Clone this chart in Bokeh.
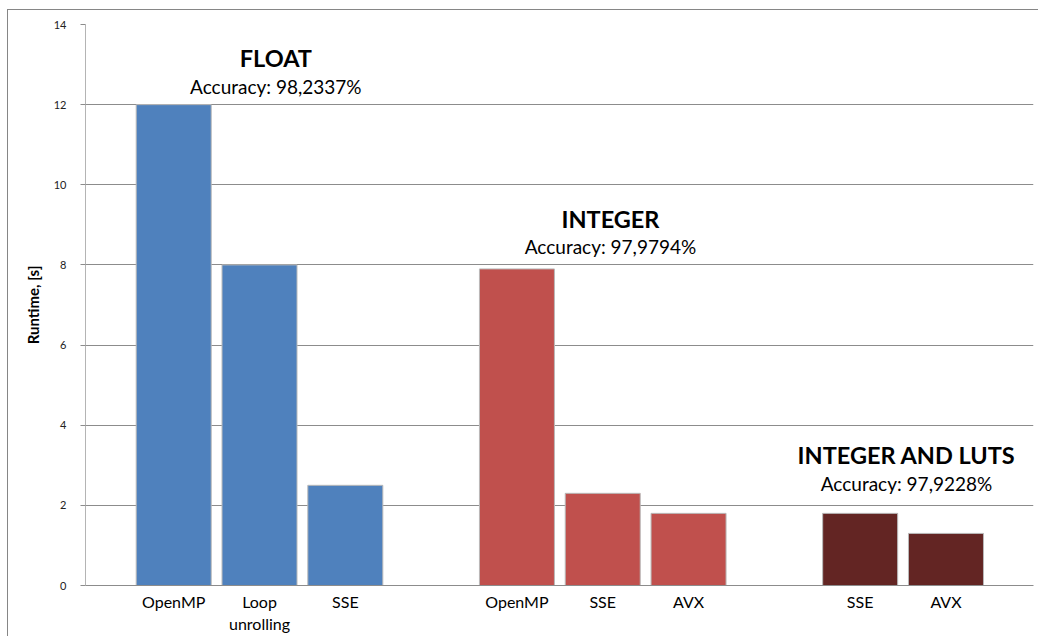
from bokeh.plotting import figure
from bokeh.models import FixedTicker, ColumnDataSource
from bokeh.core.properties import value
from bokeh.embed import file_html
from bokeh.resources import INLINE

# Runtime per optimisation variant, three groups of implementations
categories = ["OpenMP", "Loop\nunrolling", "SSE", "OpenMP", "SSE", "AVX", "SSE", "AVX"]
runtime = [12.0, 8.0, 2.5, 7.9, 2.3, 1.8, 1.8, 1.3]
groups = ["FLOAT", "FLOAT", "FLOAT", "INTEGER", "INTEGER", "INTEGER",
          "INTEGER AND LUTS", "INTEGER AND LUTS"]
group_titles = ["FLOAT", "INTEGER", "INTEGER AND LUTS"]
group_accuracy = ["Accuracy: 98,2337%", "Accuracy: 97,9794%", "Accuracy: 97,9228%"]
y_ticks = [0, 2, 4, 6, 8, 10, 12, 14]

group_colors = {"FLOAT": "#4F81BD", "INTEGER": "#C0504D", "INTEGER AND LUTS": "#632523"}

# slot positions: bars of a group sit side by side, one empty slot between groups
positions = [0, 1, 2, 4, 5, 6, 8, 9]

src = ColumnDataSource(dict(
    x=positions,
    top=runtime,
    color=[group_colors[g] for g in groups],
))

FONT = "Lato"

p = figure(
    width=1031, height=627,
    x_range=(-1.028, 10.02), y_range=(0, 14),
    output_backend="svg", toolbar_location=None,
    min_border_left=77, min_border_right=6, min_border_top=14, min_border_bottom=52,
)
p.margin = (9, 0, 0, 7)
p.styles = {"border-left": "1px solid #868686", "border-top": "1px solid #868686"}
p.outline_line_color = None
p.background_fill_color = "white"
p.border_fill_color = "white"

p.vbar(x="x", top="top", bottom=0, width=0.874, fill_color="color",
       line_color="#B9B9B9", line_width=1, source=src)

# x axis: category names under each bar
p.xaxis.ticker = FixedTicker(ticks=positions)
p.xaxis.major_label_overrides = {pos: lab for pos, lab in zip(positions, categories)}
p.xaxis.major_tick_line_color = None
p.xaxis.minor_tick_line_color = None
p.xaxis.major_tick_out = 0
p.xaxis.axis_line_color = "#8C8C8C"
p.xaxis.major_label_text_font = FONT
p.xaxis.major_label_text_font_size = "16px"
p.xaxis.major_label_text_color = "black"
p.xaxis.major_label_standoff = 6
p.xgrid.grid_line_color = None

# y axis
p.yaxis.ticker = FixedTicker(ticks=y_ticks)
p.yaxis.axis_line_color = "#B4B4B4"
p.yaxis.major_tick_line_color = "#8C8C8C"
p.yaxis.major_tick_out = 5
p.yaxis.major_tick_in = 0
p.yaxis.minor_tick_line_color = None
p.yaxis.major_label_text_font = FONT
p.yaxis.major_label_text_font_size = "11px"
p.yaxis.major_label_text_color = "#222222"
p.yaxis.major_label_standoff = 14
p.yaxis.axis_label = "Runtime, [s]"
p.yaxis.axis_label_text_font = FONT
p.yaxis.axis_label_text_font_style = "bold"
p.yaxis.axis_label_text_font_size = "15px"
p.yaxis.axis_label_text_color = "black"
p.yaxis.axis_label_standoff = 9
p.ygrid.grid_line_color = "#8C8C8C"
p.ygrid.grid_line_width = 1

# group headings with accuracy notes
title_x = [1.19, 5.09, 8.54]
title_y = [13.16, 9.14, 3.25]
acc_y = [12.45, 8.45, 2.545]
p.text(x=title_x, y=title_y, text=group_titles, text_align="center",
       text_baseline="alphabetic", text_font=value(FONT), text_font_style="bold",
       text_font_size="23.5px", text_color="black")
p.text(x=title_x, y=acc_y, text=group_accuracy, text_align="center",
       text_baseline="alphabetic", text_font=value(FONT),
       text_font_size="19px", text_color="black")

open("out.html", "w").write(file_html(p, INLINE))
